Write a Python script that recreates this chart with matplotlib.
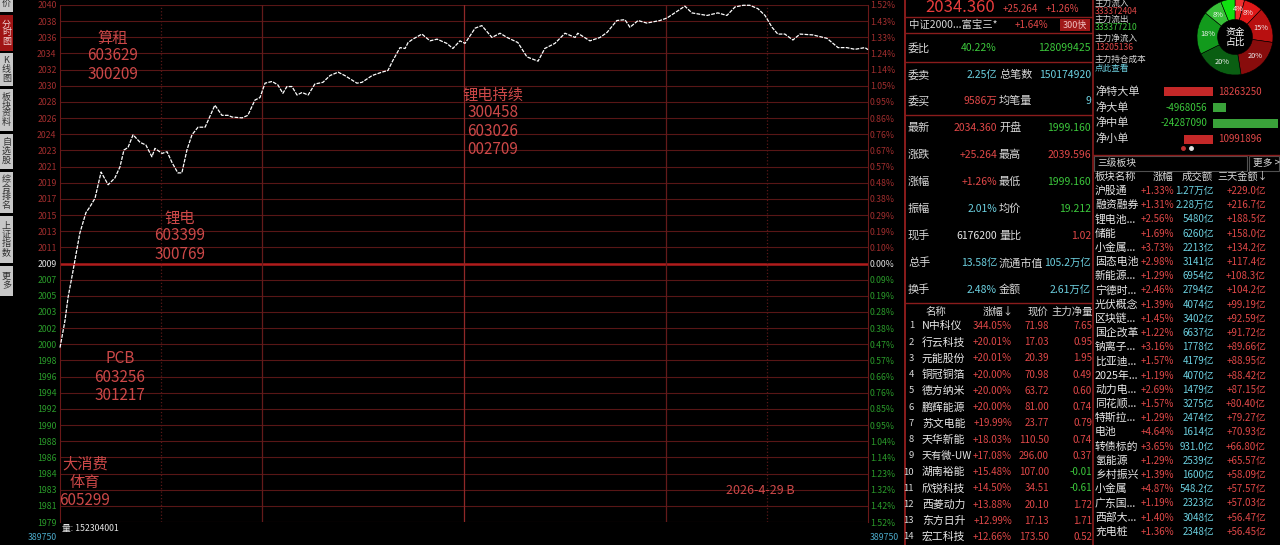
#!/usr/bin/env python3
"""
Intraday index minute chart with quote panel, recreated with matplotlib
"""

import matplotlib
matplotlib.use('Agg')
import matplotlib.pyplot as plt
import numpy as np
from matplotlib.patches import Rectangle

plt.rcParams['font.family'] = ['Noto Sans CJK SC', 'DejaVu Sans']

W, H = 1280, 545

# ---- intraday data: minute index (0 = 9:30, 120 = 11:30/13:00, 240 = 15:00) ----
minutes = [0, 1.5, 2.4, 3.9, 5.9, 7.7, 8.9, 10.4, 12.2, 14.3,
           16.3, 17.8, 19.0, 20.2, 21.7, 23.8, 25.5, 27.3, 28.2, 30.3,
           31.8, 33.3, 35.0, 36.2, 37.7, 39.2, 41.0, 43.1, 44.0, 46.0,
           48.1, 49.9, 51.1, 54.1, 55.8, 57.9, 59.4, 60.9, 63.0, 64.7,
           66.2, 67.4, 68.9, 70.4, 71.9, 73.7, 75.7, 78.1, 80.2, 82.6,
           84.6, 88.2, 89.7, 92.7, 95.6, 97.4, 98.9, 101.0, 102.5, 103.4,
           104.8, 107.5, 109.9, 112.0, 114.9, 116.7, 118.8, 120.3, 123.3, 125.3,
           128.3, 130.7, 132.8, 136.0, 138.7, 142.0, 144.0, 147.0, 150.0, 153.0,
           153.8, 157.4, 160.4, 162.5, 165.4, 167.8, 169.3, 171.7, 174.3, 178.2,
           180.3, 184.1, 185.6, 187.7, 192.2, 195.4, 198.1, 200.5, 202.9, 204.9,
           207.3, 209.4, 211.5, 213.2, 215.3, 217.7, 219.8, 223.6, 227.8, 231.1,
           233.7, 236.1, 239.1, 240]
prices = [1999.16, 2002.4, 2005.1, 2008.3, 2012.7, 2015.1, 2015.8, 2016.8, 2019.9, 2018.4,
          2019.2, 2020.5, 2022.5, 2022.8, 2024.3, 2023.4, 2023.1, 2021.7, 2022.7, 2022.1,
          2022.3, 2021.0, 2019.8, 2019.8, 2022.5, 2024.3, 2025.2, 2025.2, 2026.0, 2027.8,
          2026.6, 2026.6, 2026.4, 2026.3, 2026.6, 2028.4, 2028.7, 2030.4, 2030.6, 2030.2,
          2029.2, 2030.0, 2030.0, 2029.0, 2029.3, 2029.0, 2030.3, 2030.5, 2031.3, 2031.7,
          2031.3, 2030.4, 2030.5, 2031.3, 2031.7, 2031.9, 2033.1, 2034.6, 2034.5, 2035.2,
          2035.6, 2036.2, 2035.4, 2035.6, 2035.1, 2034.5, 2035.4, 2035.1, 2036.9, 2037.2,
          2035.8, 2036.3, 2035.8, 2035.2, 2033.5, 2033.0, 2034.5, 2035.1, 2036.3, 2035.8,
          2036.3, 2035.4, 2035.8, 2036.4, 2037.8, 2037.9, 2037.0, 2037.8, 2037.5, 2037.8,
          2038.1, 2039.1, 2039.5, 2038.7, 2038.4, 2038.7, 2038.4, 2039.4, 2039.6, 2039.6,
          2039.2, 2038.4, 2037.0, 2036.2, 2036.2, 2035.5, 2036.2, 2036.1, 2035.7, 2034.6,
          2034.6, 2034.4, 2034.6, 2034.36]
prev_close = 2009.096
max_pct = 0.0152

left_labels = ["2040", "2038", "2036", "2034", "2032", "2030", "2028", "2026", "2024",
               "2023", "2021", "2019", "2017", "2015", "2013", "2011", "2009", "2007",
               "2005", "2003", "2002", "2000", "1998", "1996", "1994", "1992", "1990",
               "1988", "1986", "1984", "1983", "1981", "1979"]
pct_labels = ["1.52%", "1.43%", "1.33%", "1.24%", "1.14%", "1.05%", "0.95%", "0.86%",
              "0.76%", "0.67%", "0.57%", "0.48%", "0.38%", "0.29%", "0.19%", "0.10%",
              "0.00%", "0.09%", "0.19%", "0.28%", "0.38%", "0.47%", "0.57%", "0.66%",
              "0.76%", "0.85%", "0.95%", "1.04%", "1.14%", "1.23%", "1.32%", "1.42%", "1.52%"]

notes = [("算租\n603629\n300209", 113, 56),
         ("锂电\n603399\n300769", 180, 236),
         ("锂电持续\n300458\n603026\n002709", 493, 122),
         ("PCB\n603256\n301217", 120, 377),
         ("大消费\n体育\n605299", 85, 482)]

# ---- quote panel ----
quote_rows = [("委比", "40.22%", "g", "", "128099425", "g"),
              ("委卖", "2.25亿", "c", "总笔数", "150174920", "c"),
              ("委买", "9586万", "r", "均笔量", "9", "c"),
              ("最新", "2034.360", "r", "开盘", "1999.160", "g"),
              ("涨跌", "+25.264", "r", "最高", "2039.596", "r"),
              ("涨幅", "+1.26%", "r", "最低", "1999.160", "g"),
              ("振幅", "2.01%", "c", "均价", "19.212", "g"),
              ("现手", "6176200", "w", "量比", "1.02", "r"),
              ("总手", "13.58亿", "c", "流通市值", "105.2万亿", "c"),
              ("换手", "2.48%", "c", "金额", "2.61万亿", "c")]
quote_y = [48, 75, 101, 128, 155, 182, 209, 236, 263, 290]

flow_text = [("主力流入", "w"), ("333372404", "r"), ("主力流出", "w"), ("333377210", "g"),
             ("主力净流入", "w"), ("13205136", "r"), ("主力持仓成本", "w"), ("点此查看", "c")]
flow_text_y = [3, 11, 19, 28, 38, 48, 59, 68]
flow_share = [4, 8, 15, 20, 20, 18, 8, 6]
flow_colors = ['#f03030', '#e01818', '#b81010', '#880c0c',
               '#0a5e12', '#129a1c', '#38c038', '#10e010']

net_labels = ["净特大单", "净大单", "净中单", "净小单"]
net_values = [18263250, -4968056, -24287090, 10991896]

stock_names = ["N中科仪", "行云科技", "元能股份", "铜冠铜箔", "德方纳米", "鹏辉能源", "苏文电能",
               "天华新能", "天有微-UW", "湖南裕能", "欣锐科技", "西菱动力", "东方日升", "宏工科技"]
stock_pct = ["344.05%", "+20.01%", "+20.01%", "+20.00%", "+20.00%", "+20.00%", "+19.99%",
             "+18.03%", "+17.08%", "+15.48%", "+14.50%", "+13.88%", "+12.99%", "+12.66%"]
stock_price = ["71.98", "17.03", "20.39", "70.98", "63.72", "81.00", "23.77",
               "110.50", "296.00", "107.00", "34.51", "20.10", "17.13", "173.50"]
stock_net = [7.65, 0.95, 1.95, 0.49, 0.60, 0.74, 0.79, 0.74, 0.37, -0.01, -0.61, 1.72, 1.71, 0.52]

sector_names = ["沪股通", "融资融券", "锂电池...", "储能", "小金属...", "固态电池", "新能源...",
                "宁德时...", "光伏概念", "区块链...", "国企改革", "钠离子...", "比亚迪...",
                "2025年...", "动力电...", "同花顺...", "特斯拉...", "电池", "转债标的",
                "氢能源", "乡村振兴", "小金属", "广东国...", "西部大...", "充电桩"]
sector_pct = ["+1.33%", "+1.31%", "+2.56%", "+1.69%", "+3.73%", "+2.98%", "+1.29%",
              "+2.46%", "+1.39%", "+1.45%", "+1.22%", "+3.16%", "+1.57%", "+1.19%",
              "+2.69%", "+1.57%", "+1.29%", "+4.64%", "+3.65%", "+1.29%", "+1.39%",
              "+4.87%", "+1.19%", "+1.40%", "+1.36%"]
sector_turnover = ["1.27万亿", "2.28万亿", "5480亿", "6260亿", "2213亿", "3141亿", "6954亿",
                   "2794亿", "4074亿", "3402亿", "6637亿", "1778亿", "4179亿", "4070亿",
                   "1479亿", "3275亿", "2474亿", "1614亿", "931.0亿", "2539亿", "1600亿",
                   "548.2亿", "2323亿", "3048亿", "2348亿"]
sector_3day = ["+229.0亿", "+216.7亿", "+188.5亿", "+158.0亿", "+134.2亿", "+117.4亿",
               "+108.3亿", "+104.2亿", "+99.19亿", "+92.59亿", "+91.72亿", "+89.66亿",
               "+88.95亿", "+88.42亿", "+87.15亿", "+80.40亿", "+79.27亿", "+70.93亿",
               "+66.80亿", "+65.57亿", "+58.09亿", "+57.57亿", "+57.03亿", "+56.47亿",
               "+56.45亿"]

tabs = [("价", -6, 12, False), ("分时图", 15, 51, True), ("K线图", 53, 86, False),
        ("板块资料", 89, 131, False), ("自选股", 134, 169, False), ("综合排名", 172, 213, False),
        ("上证指数", 216, 263, False), ("更多", 266, 296, False)]

COL = {'r': '#e04848', 'g': '#3cc83c', 'c': '#6cd0e0', 'w': '#e6e6e6'}
LBL = '#d8d8d8'
NOTE = '#cc4848'
BORDER = '#8a1c1c'

fig = plt.figure(figsize=(W / 100, H / 100), dpi=100, facecolor='black')

# background layer in pixel coordinates, used for panel layout
bg = fig.add_axes([0, 0, 1, 1])
bg.set_xlim(0, W)
bg.set_ylim(H, 0)
bg.set_facecolor('black')
bg.axis('off')


def txt(x, y, s, c=LBL, size=7.5, ha='left', on=None, **kw):
    target = on if on is not None else bg
    target.text(x, y, s, color=c, fontsize=size, ha=ha, va='center',
                transform=bg.transData, zorder=6, **kw)


def hline(y, x0, x1, c=BORDER, lw=1.0):
    bg.plot([x0, x1], [y, y], color=c, lw=lw, solid_capstyle='butt')


def vline(x, y0, y1, c=BORDER, lw=1.0):
    bg.plot([x, x], [y0, y1], color=c, lw=lw, solid_capstyle='butt')


# left tab buttons
for name, y0, y1, active in tabs:
    bg.add_patch(Rectangle((0, y0), 13, y1 - y0,
                           facecolor='#a01414' if active else '#c8c8c8', edgecolor='none'))
    txt(6.5, (y0 + y1) / 2, '\n'.join(name), c='#f0d0d0' if active else '#303030',
        size=6.5, ha='center', linespacing=0.95)

# ---- main minute chart ----
ax = fig.add_axes([60 / W, 1 - 522 / H, (868 - 60) / W, (522 - 5) / H])
ax.set_facecolor('black')
ax.set_xlim(0, 240)
lo, hi = prev_close * (1 - max_pct), prev_close * (1 + max_pct)
ax.set_ylim(lo, hi)
tick_vals = prev_close * (1 + np.linspace(max_pct, -max_pct, len(left_labels)))
for i, v in enumerate(tick_vals):
    if i == len(tick_vals) // 2:
        ax.axhline(v, color='#b01c1c', lw=1.8, zorder=1)
    else:
        ax.axhline(v, color='#581616', lw=0.8, zorder=1)
for m, c, ls in [(30, '#5a1818', ':'), (60, '#641a1a', '-'), (120, '#902828', '-'),
                 (180, '#641a1a', '-'), (210, '#5a1818', ':')]:
    ax.axvline(m, color=c, lw=0.9, ls=ls, zorder=1)
ax.plot(minutes, prices, color='white', lw=0.9, ls=(0, (3, 1)), zorder=3, clip_on=False)
for s in ['top', 'bottom']:
    ax.spines[s].set_visible(False)
for s in ['left', 'right']:
    ax.spines[s].set_color('#6a1818')
ax.set_xticks([])
ax.set_yticks(tick_vals)
ax.set_yticklabels(left_labels, fontsize=6.3)
ax.tick_params(axis='y', length=0, pad=2.5)
mid = len(left_labels) // 2
for i, t in enumerate(ax.get_yticklabels()):
    t.set_color('#a02e2e' if i < mid else ('#e0e0e0' if i == mid else '#2a9a2a'))

ax2 = ax.twinx()
ax2.set_ylim(lo, hi)
ax2.set_yticks(tick_vals)
ax2.set_yticklabels(pct_labels, fontsize=6.3)
ax2.tick_params(axis='y', length=0, pad=1.5)
for s in ax2.spines.values():
    s.set_visible(False)
for i, t in enumerate(ax2.get_yticklabels()):
    t.set_color('#a02e2e' if i < mid else ('#e0e0e0' if i == mid else '#2a9a2a'))

for s, x, y in notes:
    txt(x, y, s, c=NOTE, size=11, ha='center', linespacing=1.08, on=ax2)
txt(760, 490, "2026-4-29 B", c=NOTE, size=9, ha='center', on=ax2)

# volume strip at the bottom
txt(62, 528, "量: 152304001", c='#e6e6e6', size=6.3)
txt(57, 538, "389750", c='#4aa8c8', size=6.3, ha='right')
txt(870, 538, "389750", c='#4aa8c8', size=6.3)

# ---- quote panel ----
vline(905, 0, H, lw=1.4)
vline(1093, 0, H, lw=1.2)
for y in [17, 33, 62, 115, 303]:
    hline(y, 905, 1093)
txt(925, 7, "2034.360", c='#e83c3c', size=12)
txt(1003, 9, "+25.264", c=COL['r'], size=7)
txt(1046, 9, "+1.26%", c=COL['r'], size=7)
txt(909, 25, "中证2000...富宝三*", c=LBL, size=7.5)
txt(1048, 25, "+1.64%", c=COL['r'], size=7, ha='right')
bg.add_patch(Rectangle((1060, 19), 30, 12, facecolor='#a01818', edgecolor='none'))
txt(1075, 25, "300快", c='#f0c0c0', size=6.5, ha='center')
for (l1, v1, c1, l2, v2, c2), y in zip(quote_rows, quote_y):
    txt(908, y, l1, size=8)
    txt(997, y, v1, c=COL[c1], size=7.5, ha='right')
    if l2:
        txt(999, y, l2, size=8)
    txt(1091, y, v2, c=COL[c2], size=7.5, ha='right')

# stock ranking table
txt(936, 312, "名称", size=7.5, ha='center')
txt(998, 312, "涨幅↓", size=7.5, ha='center')
txt(1038, 312, "现价", size=7.5, ha='center')
txt(1093, 312, "主力净量", size=7.5, ha='right')
for i, (n, p, pr, nv) in enumerate(zip(stock_names, stock_pct, stock_price, stock_net)):
    y = 326 + i * 16.23
    txt(914, y, str(i + 1), size=6.8, ha='right')
    txt(922, y, n, size=7.3 if len(n) > 5 else 7.8, c='#e8e8e8')
    txt(1012, y, p, c=COL['r'], size=7, ha='right')
    txt(1049, y, pr, c=COL['r'], size=7, ha='right')
    txt(1092, y, f"{nv:.2f}", c=COL['r'] if nv > 0 else COL['g'], size=7, ha='right')

# main-force flow text, top right
for (s, c), y in zip(flow_text, flow_text_y):
    txt(1095, y, s, c=COL[c] if c != 'w' else LBL, size=6.2)

# fund share donut
dax = fig.add_axes([(1235 - 38) / W, 1 - (37 + 38) / H, 76 / W, 76 / H])
dax.pie(flow_share, colors=flow_colors, startangle=90, counterclock=False, radius=1.0,
        wedgeprops=dict(width=0.54, edgecolor='black', linewidth=0.4))
dax.set_xlim(-1.0, 1.0)
dax.set_ylim(-1.0, 1.0)
dax.set_aspect('equal')
ang0 = 90.0
tot = sum(flow_share)
for v in flow_share[:-1]:
    a = np.deg2rad(ang0 - v / tot * 180)
    dax.text(0.73 * np.cos(a), 0.73 * np.sin(a), f"{v}%", color='#f0f0f0',
             fontsize=5.3, ha='center', va='center')
    ang0 -= v / tot * 360
dax.text(0, 0, "资金\n占比", color='white', fontsize=7, ha='center', va='center',
         linespacing=1.0)

# net order bars
for i, l in enumerate(net_labels):
    txt(1095, 91.5 + i * 15.8, l, size=8)
fax = fig.add_axes([1140 / W, 1 - 147 / H, 140 / W, 63.2 / H])
fax.set_facecolor('none')
scale = 2.68e-6
fax.set_xlim(-(1213 - 1140) / scale, (1280 - 1213) / scale)
fax.set_ylim(3.5, -0.5)
for i, v in enumerate(net_values):
    fax.barh(i, -v, height=0.57, color='#c42828' if v > 0 else '#3aa23a')
    if v > 0:
        fax.text(2.0e6, i, str(v), color=COL['r'], fontsize=7, ha='left', va='center')
    else:
        fax.text(-2.0e6, i, str(v), color=COL['g'], fontsize=7, ha='right', va='center')
fax.axis('off')
bg.plot([1183], [148], 'o', color='#c03030', ms=2.5)
bg.plot([1191], [148], 'o', color='#e0e0e0', ms=2.5)

# sector table
hline(155, 1093, 1280)
bg.add_patch(Rectangle((1094, 156), 153, 15, facecolor='none', edgecolor='#505050', lw=0.8))
bg.add_patch(Rectangle((1249, 156), 30, 15, facecolor='none', edgecolor='#505050', lw=0.8))
txt(1097, 163, "三级板块", size=7)
txt(1253, 163, "更多 >", size=7)
txt(1095, 177, "板块名称", size=7.5)
txt(1173, 177, "涨幅", size=7.5, ha='right')
txt(1213, 177, "成交额", size=7.5, ha='right')
txt(1268, 177, "三天金额↓", size=7.3, ha='right')
for i, (n, p, t, d) in enumerate(zip(sector_names, sector_pct, sector_turnover, sector_3day)):
    y = 191 + i * 14.2
    txt(1095, y, n, size=7.8, c='#e8e8e8')
    txt(1174, y, p, c=COL['r'], size=7, ha='right')
    txt(1214, y, t, c=COL['c'], size=7, ha='right')
    txt(1266, y, d, c=COL['r'], size=7, ha='right')

fig.savefig('out.png', dpi=100, facecolor='black')
print("Plot saved to out.png")
